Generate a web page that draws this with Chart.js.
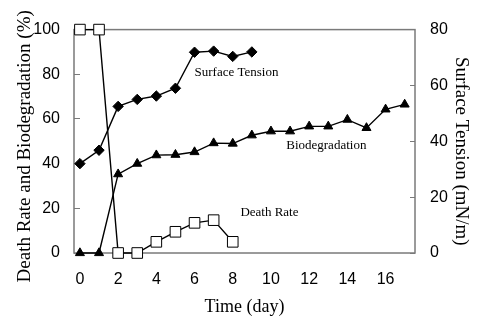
<!DOCTYPE html>
<html>
<head>
<meta charset="utf-8">
<script src="https://cdn.jsdelivr.net/npm/chart.js@4"></script>
<style>
  html, body { margin: 0; padding: 0; background: #fff; }
  #wrap { width: 491px; height: 322px; }
</style>
</head>
<body>
<div id="wrap"><canvas id="chart"></canvas></div>
<script>
// data
const deathDays = [0, 1, 2, 3, 4, 5, 6, 7, 8];
const deathRate = [100, 100, 0, 0, 5, 9.5, 13.5, 14.7, 5];

const bioDays = [0, 1, 2, 3, 4, 5, 6, 7, 8, 9, 10, 11, 12, 13, 14, 15, 16, 17];
const biodegradation = [0, 0, 35.3, 40, 43.8, 44, 45.2, 49.2, 49, 52.7, 54.5, 54.5, 56.7, 56.7, 59.7, 56, 64.3, 66.5];

const stDays = [0, 1, 2, 3, 4, 5, 6, 7, 8, 9];
const surfaceTension = [32, 36.8, 52.5, 55, 56.2, 59, 71.9, 72.3, 70.4, 72]; // mN/m

const xTicks = [0, 2, 4, 6, 8, 10, 12, 14, 16];

// series labels written inside the plot (day, % value)
const seriesLabels = ["Surface Tension", "Biodegradation", "Death Rate"];
const labelDays = [6.0, 10.8, 8.4];
const labelValues = [80.8, 48.2, 17.9];

const leftTitle = "Death Rate and Biodegradation (%)";
const rightTitle = "Surface Tension (mN/m)";

const toXY = (xs, ys) => xs.map((x, i) => ({ x: x, y: ys[i] }));

const grey = "#7a7a7a";
const serif = "'Liberation Serif', 'Times New Roman', serif";

// box around the plot, the written series names and the two y titles
const framePlugin = {
    id: "frame",
    beforeDatasetsDraw(chart) {
        const a = chart.chartArea;
        const ctx = chart.ctx;
        ctx.save();
        ctx.strokeStyle = grey;
        ctx.lineWidth = 1.5;
        ctx.strokeRect(a.left, a.top, a.right - a.left, a.bottom - a.top);
        ctx.restore();
    },
    afterDatasetsDraw(chart) {
        const ctx = chart.ctx;
        const xs = chart.scales.x, ys = chart.scales.y;
        const a = chart.chartArea;
        ctx.save();
        ctx.fillStyle = "#000";
        ctx.font = "13px " + serif;
        ctx.textAlign = "left";
        ctx.textBaseline = "middle";
        seriesLabels.forEach((t, i) => {
            ctx.fillText(t, xs.getPixelForValue(labelDays[i]), ys.getPixelForValue(labelValues[i]));
        });

        const mid = (a.top + a.bottom) / 2;
        ctx.font = "19px " + serif;
        ctx.textAlign = "center";
        // left title, reads bottom to top
        ctx.save();
        ctx.translate(25, mid + 5);
        ctx.rotate(-Math.PI / 2);
        ctx.fillText(leftTitle, 0, 0);
        ctx.restore();
        // right title, reads top to bottom
        ctx.save();
        ctx.translate(chart.width - 30, mid + 10);
        ctx.rotate(Math.PI / 2);
        ctx.fillText(rightTitle, 0, 0);
        ctx.restore();
        ctx.restore();
    }
};

const tickFont = { family: "'Liberation Sans', Arial, sans-serif", size: 16 };

new Chart(document.getElementById("chart"), {
    type: "line",
    data: {
        datasets: [
            {
                label: "Death Rate",
                data: toXY(deathDays, deathRate),
                yAxisID: "y",
                borderColor: "#000",
                borderWidth: 1.4,
                pointStyle: "rect",
                pointRadius: 7.5,
                pointBackgroundColor: "#fff",
                pointBorderColor: "#000",
                pointBorderWidth: 1,
                tension: 0
            },
            {
                label: "Biodegradation",
                data: toXY(bioDays, biodegradation),
                yAxisID: "y",
                borderColor: "#000",
                borderWidth: 1.4,
                pointStyle: "triangle",
                pointRadius: 5.2,
                pointBackgroundColor: "#000",
                pointBorderColor: "#000",
                pointBorderWidth: 1,
                tension: 0
            },
            {
                label: "Surface Tension",
                data: toXY(stDays, surfaceTension),
                yAxisID: "y1",
                borderColor: "#000",
                borderWidth: 1.4,
                pointStyle: "rectRot",
                pointRadius: 5.2,
                pointBackgroundColor: "#000",
                pointBorderColor: "#000",
                pointBorderWidth: 1,
                tension: 0
            }
        ]
    },
    options: {
        responsive: true,
        maintainAspectRatio: false,
        animation: false,
        clip: false,
        layout: { padding: { top: 29, left: 0, right: 0, bottom: 0 } },
        plugins: {
            legend: { display: false },
            tooltip: { enabled: false }
        },
        scales: {
            x: {
                type: "linear",
                min: -0.31,
                max: 17.54,
                afterBuildTicks: (s) => { s.ticks = xTicks.map(v => ({ value: v })); },
                afterFit: (s) => { s.height = 69; },
                border: { display: false },
                grid: { display: false, drawTicks: false },
                ticks: { color: "#000", font: tickFont, padding: 17 },
                title: {
                    display: true,
                    text: "Time (day)",
                    color: "#000",
                    font: { family: serif, size: 18, lineHeight: 1 },
                    padding: { top: 0, bottom: 6 }
                }
            },
            y: {
                position: "left",
                min: 0,
                max: 100,
                afterFit: (s) => { s.width = 74; },
                border: { display: false },
                grid: { drawOnChartArea: false, tickLength: -6, tickColor: grey, tickWidth: 1 },
                ticks: { stepSize: 20, color: "#000", font: tickFont, padding: 20 }
            },
            y1: {
                position: "right",
                min: 0,
                max: 80,
                afterFit: (s) => { s.width = 76; },
                border: { display: false },
                grid: { drawOnChartArea: false, tickLength: -5, tickColor: grey, tickWidth: 1 },
                ticks: { stepSize: 20, color: "#000", font: tickFont, padding: 20 }
            }
        }
    },
    plugins: [framePlugin]
});
</script>
</body>
</html>
